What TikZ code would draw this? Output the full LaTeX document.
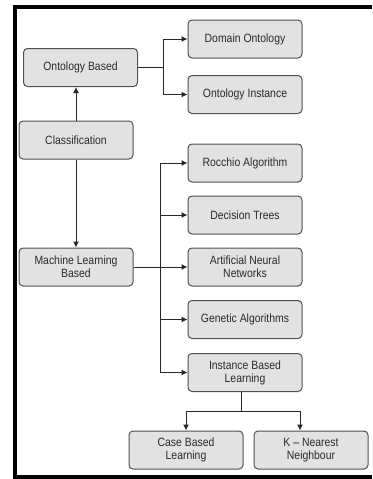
\documentclass[tikz,border=0pt]{standalone}
\usepackage{fontspec}
\setmainfont{Liberation Sans}[FakeStretch=0.87]
\usetikzlibrary{arrows.meta}
\definecolor{boxfill}{HTML}{E2E2E2}
\definecolor{boxline}{HTML}{505050}
\definecolor{boxtext}{HTML}{2A2A2A}

\begin{document}
\begin{tikzpicture}
    [
        x=1pt, y=-1pt,
        box/.style = {draw=boxline, fill=boxfill, shape=rectangle, rounded corners=4pt, minimum height=38pt, minimum width=114pt, line width=1pt, align=center, text=boxtext, font=\fontsize{12}{13}\selectfont},
        link/.style = {line width=1pt, draw=black!85, -{Latex[length=6pt,width=6pt]}},
        bus/.style = {line width=1pt, draw=black!85},
    ]

    \useasboundingbox (0,0) rectangle (372,479);
    \draw [line width=4pt] (372,7) -- (15,7) -- (15,477) -- (372,477);

    \node[box] (ont) at (80.5,67.5)   {Ontology Based};
    \node[box] (dom) at (245,39)      {Domain Ontology};
    \node[box] (oinst) at (245,94.5)  {Ontology Instance};

    \node[box] (cls) at (76,140)      {Classification};
    \node[box] (mlb) at (76,267)      {Machine Learning\\Based};

    \node[box] (roc) at (245,163)     {Rocchio Algorithm};
    \node[box] (dt) at (245,215)      {Decision Trees};
    \node[box] (ann) at (245,267)     {Artificial Neural\\Networks};
    \node[box] (ga) at (245,319.5)    {Genetic Algorithms};
    \node[box] (ibl) at (245,372.5)   {Instance Based\\Learning};

    \node[box] (cbl) at (186,450)     {Case Based\\Learning};
    \node[box] (knn) at (311,450)     {K -- Nearest\\Neighbour};

    \coordinate (mlbus) at (160,163);
    \coordinate (ibfork) at (241,411);
    \coordinate (knnin) at (300,411);

    \draw [link] (ont.east) -- ++(25,0) |- (dom.west);
    \draw [link] (ont.east) -- ++(25,0) |- (oinst.west);

    \draw [link] (cls.north) -- (cls.north |- ont.south);
    \draw [link] (cls.south) -- (mlb.north);

    \draw [bus] (mlbus) -- (mlbus |- ibl.west);
    \draw [link] (mlbus) -- (roc.west);
    \draw [link] (mlbus |- dt.west) -- (dt.west);
    \draw [link] (mlb.east) -- (ann.west);
    \draw [link] (mlbus |- ga.west) -- (ga.west);
    \draw [link] (mlbus |- ibl.west) -- (ibl.west);

    \draw [bus] (ibfork |- ibl.south) -- (ibfork);
    \draw [link] (ibfork) -| (cbl.north);
    \draw [link] (ibfork) -| (knnin |- knn.north);

\end{tikzpicture}
\end{document}
